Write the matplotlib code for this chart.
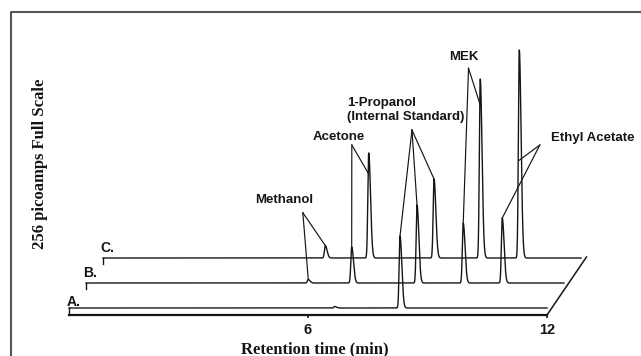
import numpy as np
import matplotlib
matplotlib.use('Agg')
import matplotlib.pyplot as plt
from matplotlib.lines import Line2D

# peak table (retention time in min, height in px of trace)
compounds = ['Methanol', 'Acetone', '1-Propanol', 'MEK', 'Ethyl Acetate']
label_text = ['Methanol', 'Acetone', '1-Propanol\n(Internal Standard)', 'MEK', 'Ethyl Acetate']
ret_times = [5.58, 6.67, 8.31, 9.47, 10.45]
trace_names = ['A.', 'B.', 'C.']
heights_a = [0, 1.5, 72, 0, 0]
heights_b = [3.5, 36, 78, 60, 65]
heights_c = [12.5, 105, 79, 179, 208]
x_ticks = [6, 12]

heights = [heights_a, heights_b, heights_c]

# waterfall offsets (min, signal units) between traces
dx = 0.427
dy = 25.0

sans = 'Liberation Sans'
serif = 'Liberation Serif'
ink = '#151515'

fig = plt.figure(figsize=(6.41, 3.56), dpi=100)
ax = fig.add_axes([69 / 641, 41 / 356, 478 / 641, 303 / 356])
ax.set_xlim(0, 12)
ax.set_ylim(-7, 296)

t = np.linspace(0, 12, 6001)


def peak(t, rt, h):
    s = np.where(t < rt, 0.022, 0.045)
    return h * np.exp(-0.5 * ((t - rt) / s) ** 2)


def peak_top(k, i, frac=1.0):
    return ret_times[i] + k * dx, k * dy + frac * heights[k][i]


for k, hs in enumerate(heights):
    y = np.zeros_like(t)
    for rt, h in zip(ret_times, hs):
        if h > 0:
            y += peak(t, rt, h)
    ax.plot(t + k * dx, y + k * dy, color=ink, lw=1.0, clip_on=False)
    if k > 0:
        # little start bracket
        ax.plot([k * dx, k * dx], [k * dy, k * dy - 6], color=ink, lw=1.0, clip_on=False)

# platform under trace A, and the depth line at 12 min
ax.plot([0, 0], [0, -7], color=ink, lw=1.0, clip_on=False)
ax.plot([12, 12 + 2.32 * dx], [-7, -7 + 2.32 * dy], color=ink, lw=1.1, clip_on=False)

# trace letters
name_pos = [(-0.05, 6.3), (-0.07, 10), (-0.075, 9.7)]
for k, (name, (ox, oy)) in enumerate(zip(trace_names, name_pos)):
    ax.text(k * dx + ox, k * dy + oy, name, fontsize=10, fontweight='bold', family=sans,
            color=ink, ha='left', va='center')

# compound labels and leader lines
label_pos = [(5.39, 108), (6.78, 171), (6.98, 198), (9.90, 250.7), (13.15, 170)]
label_ha = ['center', 'center', 'left', 'center', 'center']
apex = [(5.87, 95.3), (7.10, 163), (8.61, 178), (10.03, 239.7), (11.82, 163)]
leaders = [
    [(1, 1.0), (2, 1.0)],
    [(1, 1.0), (2, 0.80)],
    [(0, 1.0), (1, 1.0), (2, 1.0)],
    [(1, 1.0), (2, 0.855)],
    [(1, 1.0), (2, 0.47)],
]
for i, txt in enumerate(label_text):
    ax.text(label_pos[i][0], label_pos[i][1], txt, fontsize=9.5, fontweight='bold', family=sans,
            color=ink, ha=label_ha[i], va='center', linespacing=1.25, multialignment='left')
    for k, frac in leaders[i]:
        px, py = peak_top(k, i, frac)
        ax.plot([apex[i][0], px], [apex[i][1], py], color=ink, lw=0.85, clip_on=False)

# axes styling
for side in ['top', 'right', 'left']:
    ax.spines[side].set_visible(False)
ax.spines['bottom'].set_linewidth(1.6)
ax.spines['bottom'].set_color(ink)
ax.set_yticks([])
ax.set_xticks(x_ticks)
ax.set_xticklabels([str(v) for v in x_ticks], fontsize=10.5, fontweight='bold', family=sans)
ax.tick_params(axis='x', direction='out', length=2.5, width=1.2, pad=3.5, colors=ink)
ax.set_xlabel('Retention time (min)', fontsize=12, fontweight='bold', family=serif, color=ink)
ax.xaxis.set_label_coords(0.515, -0.0858)
ax.xaxis.label.set_va('top')
ax.set_ylabel('256 picoamps Full Scale', fontsize=12, fontweight='bold', family=serif, color=ink)
ax.yaxis.set_label_coords(-0.061, 0.50)
ax.yaxis.label.set_va('center')
ax.patch.set_visible(False)

# outer frame of the figure (runs off the right and bottom)
fig.add_artist(Line2D([11 / 641, 11 / 641, 1.02], [-0.02, 1 - 12 / 356, 1 - 12 / 356],
                      transform=fig.transFigure, color='#555555', lw=1.5))

fig.savefig('out.png', dpi=100)
